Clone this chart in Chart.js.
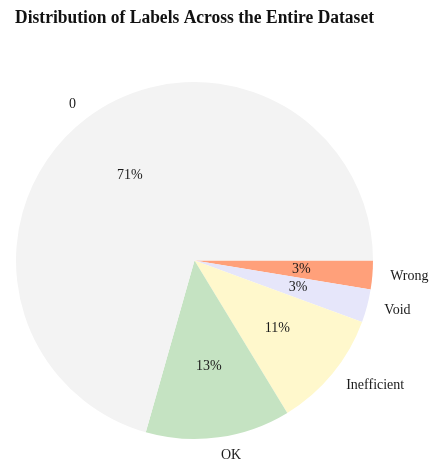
<!DOCTYPE html>
<html>
<head>
<meta charset="utf-8">
<script src="https://cdn.jsdelivr.net/npm/chart.js@4"></script>
<style>
  html, body { margin: 0; padding: 0; background: #ffffff; }
  #wrap { width: 433px; height: 463px; }
</style>
</head>
<body>
<div id="wrap"><canvas id="pie" width="433" height="463"></canvas></div>
<script>
// Share of each label in the full dataset (percent)
const categories = ['0', 'OK', 'Inefficient', 'Void', 'Wrong'];
const shares = [70.6, 13.1, 10.7, 3.0, 2.6];
const sliceColors = ['#f3f3f3', '#c5e3c2', '#fff8cc', '#e6e6fa', '#ffa07a'];

// Slices run counter-clockwise from 3 o'clock; Chart.js sweeps clockwise,
// so feed the series in reverse order starting at 90 degrees.
const drawLabels = categories.slice().reverse();
const drawValues = shares.slice().reverse();
const drawColors = sliceColors.slice().reverse();

const FONT = "'Liberation Serif', 'Times New Roman', serif";
const total = drawValues.reduce((a, b) => a + b, 0);

const sliceText = {
  id: 'sliceText',
  afterDatasetsDraw(chart) {
    const ctx = chart.ctx;
    const arcs = chart.getDatasetMeta(0).data;
    ctx.save();
    ctx.fillStyle = '#1a1a1a';
    ctx.font = '14px ' + FONT;
    ctx.textBaseline = 'middle';
    arcs.forEach((arc, i) => {
      const p = arc.getProps(['x', 'y', 'startAngle', 'endAngle', 'outerRadius'], true);
      const mid = (p.startAngle + p.endAngle) / 2;
      const c = Math.cos(mid), s = Math.sin(mid);
      // category name just outside the rim
      ctx.textAlign = c >= 0 ? 'left' : 'right';
      ctx.fillText(drawLabels[i], p.x + c * p.outerRadius * 1.1, p.y + s * p.outerRadius * 1.1);
      // percentage inside the slice
      ctx.textAlign = 'center';
      const pct = Math.round(drawValues[i] / total * 100) + '%';
      ctx.fillText(pct, p.x + c * p.outerRadius * 0.6, p.y + s * p.outerRadius * 0.6);
    });
    ctx.restore();
  }
};

new Chart(document.getElementById('pie'), {
  type: 'pie',
  data: {
    labels: drawLabels,
    datasets: [{
      data: drawValues,
      backgroundColor: drawColors,
      borderWidth: 0,
      hoverOffset: 0
    }]
  },
  options: {
    responsive: false,
    animation: false,
    rotation: 90,
    layout: { padding: { left: 15, right: 59, top: 0, bottom: 24 } },
    plugins: {
      legend: { display: false },
      tooltip: { enabled: false },
      title: {
        display: true,
        text: 'Distribution of Labels Across the Entire Dataset',
        color: '#111111',
        font: { family: FONT, size: 18, weight: 'bold', lineHeight: 1.2 },
        padding: { top: 8, bottom: 52.4 }
      }
    }
  },
  plugins: [sliceText]
});
</script>
</body>
</html>
